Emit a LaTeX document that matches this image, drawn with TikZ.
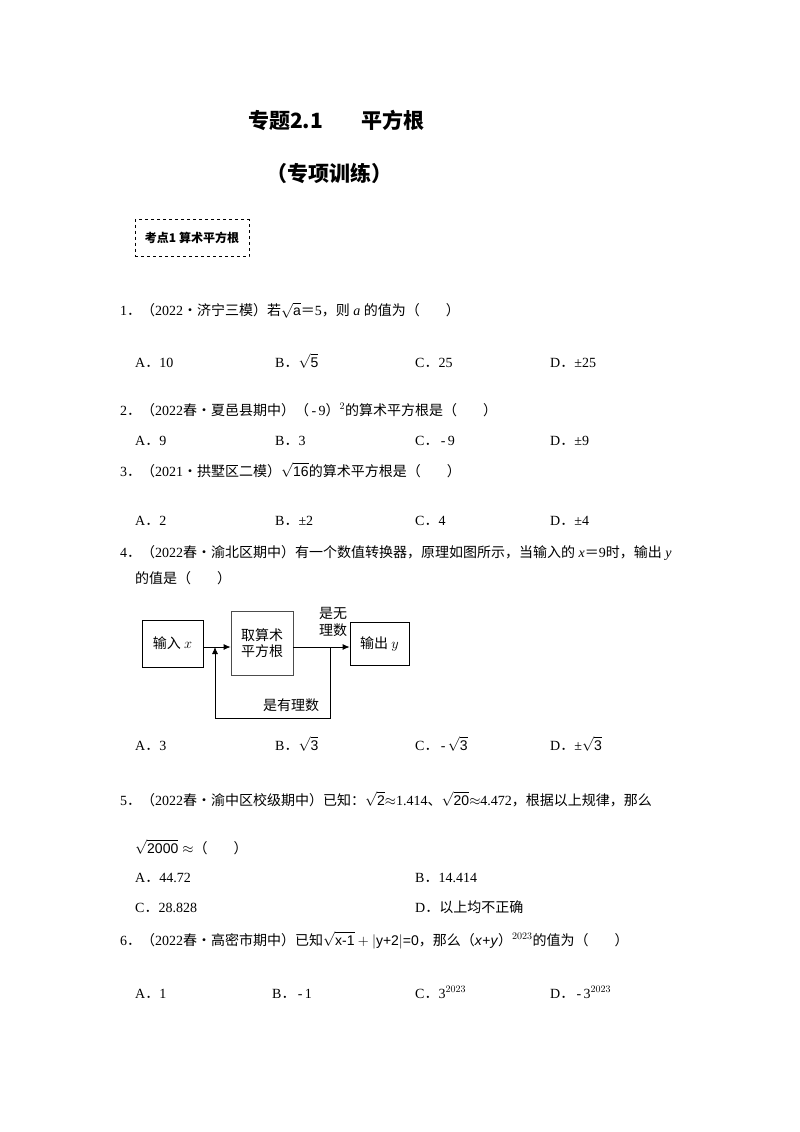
\documentclass[tikz,border=0pt]{standalone}
\usepackage{amsmath}
\usepackage{fontspec}
\usetikzlibrary{arrows.meta}
\setmainfont{Liberation Serif}
\newfontfamily\cjk{Noto Sans CJK SC}
\newfontfamily\arl{Liberation Sans}
\newcommand\zh[1]{{\cjk #1}}
\begin{document}
\begin{tikzpicture}[x=1pt,y=-1pt,
  t/.style={anchor=base west,inner sep=0pt,font=\fontsize{14}{16}\selectfont},
  box/.style={draw,thick,inner sep=0pt,font=\cjk\fontsize{14}{16}\selectfont,align=center},
  ar/.style={thick,-{Latex[length=7pt,width=6pt]}}]
\useasboundingbox[fill=white] (0,0) rectangle (800,1132);
\node[t,font=\cjk\bfseries\fontsize{21}{24}\selectfont] (title) at (248,128) {专题2.1\hspace{38pt}平方根};
\node[t,font=\cjk\bfseries\fontsize{21}{24}\selectfont] (sub) at (266,181) {（专项训练）};
\node[draw,dashed,minimum width=114pt,minimum height=37pt,font=\cjk\bfseries\fontsize{12}{14}\selectfont] (kd) at (192,238) {考点1 算术平方根};
% Q1
\node[t] (q1) at (120,315) {1\zh{．（}2022\zh{•济宁三模）若}$\sqrt{\text{\arl a}}$\zh{＝}5\zh{，则} \textit{a} \zh{的值为（\hspace{26pt}）}};
\node[t] (q1a) at (135,367) {A\zh{．}10};
\node[t] (q1b) at (275,367) {B\zh{．}$\sqrt{\text{\arl 5}}$};
\node[t] (q1c) at (415,367) {C\zh{．}25};
\node[t] (q1d) at (550,367) {D\zh{．}±25};
% Q2
\node[t] (q2) at (120,415) {2\zh{．（}2022\zh{春•夏邑县期中）（}\,-\,9\zh{）}$^{2}$\zh{的算术平方根是（\hspace{26pt}）}};
\node[t] (q2a) at (135,445) {A\zh{．}9};
\node[t] (q2b) at (275,445) {B\zh{．}3};
\node[t] (q2c) at (415,445) {C\zh{．}\,-\,9};
\node[t] (q2d) at (550,445) {D\zh{．}±9};
% Q3
\node[t] (q3) at (120,476) {3\zh{．（}2021\zh{•拱墅区二模）}$\sqrt{\text{\arl 16}}$\zh{的算术平方根是（\hspace{26pt}）}};
\node[t] (q3a) at (135,525) {A\zh{．}2};
\node[t] (q3b) at (275,525) {B\zh{．}±2};
\node[t] (q3c) at (415,525) {C\zh{．}4};
\node[t] (q3d) at (550,525) {D\zh{．}±4};
% Q4
\node[t] (q4) at (120,557) {4\zh{．（}2022\zh{春•渝北区期中）有一个数值转换器，原理如图所示，当输入的} \textit{x}\zh{＝}9\zh{时，输出} \textit{y}};
\node[t] (q4b) at (135,583) {\zh{的值是（\hspace{26pt}）}};
% flowchart
\node[box,minimum width=61pt,minimum height=47pt] (in) at (172.5,643.5) {输入 $x$};
\node[box,draw=black!70,minimum width=62pt,minimum height=64pt] (f) at (262,643) {取算术\\平方根};
\node[box,minimum width=59pt,minimum height=43pt] (out) at (379.5,643.5) {输出 $y$};
\coordinate (j) at (215,647);
\coordinate (b) at (330,647);
\coordinate (b1) at (330,718);
\coordinate (b2) at (215,718);
\draw[ar] (in.east|-j) -- (f.west|-j);
\draw[ar] (f.east|-b) -- (out.west|-b);
\draw[ar] (b) -- (b1) -- (b2) -- (j);
\node[font=\cjk\fontsize{14}{17}\selectfont,align=center,inner sep=0pt] (l1) at (333,622) {是无\\理数};
\node[font=\cjk\fontsize{14}{16}\selectfont,inner sep=0pt] (l2) at (291,705) {是有理数};
\node[t] (q4a) at (135,750) {A\zh{．}3};
\node[t] (q4bb) at (275,750) {B\zh{．}$\sqrt{\text{\arl 3}}$};
\node[t] (q4c) at (415,750) {C\zh{．}\,-\,$\sqrt{\text{\arl 3}}$};
\node[t] (q4d) at (550,750) {D\zh{．}±$\sqrt{\text{\arl 3}}$};
% Q5
\node[t] (q5) at (120,805) {5\zh{．（}2022\zh{春•渝中区校级期中）已知：}$\sqrt{\text{\arl 2}}$$\approx$1.414\zh{、}$\sqrt{\text{\arl 20}}$$\approx$4.472\zh{，根据以上规律，那么}};
\node[t] (q5b) at (135,853) {$\sqrt{\text{\arl 2000}}\approx$\zh{（\hspace{26pt}）}};
\node[t] (q5a) at (135,882) {A\zh{．}44.72};
\node[t] (q5bb) at (415,882) {B\zh{．}14.414};
\node[t] (q5c) at (135,912) {C\zh{．}28.828};
\node[t] (q5d) at (415,912) {D\zh{．以上均不正确}};
% Q6
\node[t] (q6) at (120,945) {6\zh{．（}2022\zh{春•高密市期中）已知}$\sqrt{\text{\arl x-1}}+|\text{\arl y+2}|$\arl{=0}\zh{，那么（}\textit{x}+\textit{y}\zh{）}$^{2023}$\zh{的值为（\hspace{26pt}）}};
\node[t] (q6a) at (135,998) {A\zh{．}1};
\node[t] (q6b) at (272,998) {B\zh{．}\,-\,1};
\node[t] (q6c) at (415,998) {C\zh{．}3$^{2023}$};
\node[t] (q6d) at (550,998) {D\zh{．}\,-\,3$^{2023}$};
\end{tikzpicture}
\end{document}
